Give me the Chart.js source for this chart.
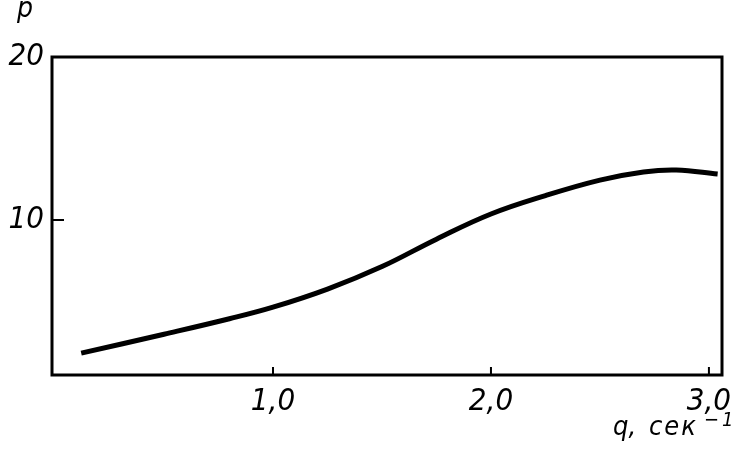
<!DOCTYPE html>
<html>
<head>
<meta charset="utf-8">
<script src="https://cdn.jsdelivr.net/npm/chart.js@4/dist/chart.umd.min.js"></script>
<style>
  html, body { margin: 0; padding: 0; background: #fff; }
  #wrap { width: 740px; height: 452px; }
</style>
</head>
<body>
<div id="wrap"><canvas id="myChart" width="740" height="452"></canvas></div>
<script>
// values: q (1/s) and p
const qValues = [0.12, 0.5, 0.8, 1.0, 1.25, 1.5, 1.75, 2.0, 2.25, 2.5, 2.7, 2.85, 3.04];
const pValues = [1.84, 3.0, 3.95, 4.66, 5.77, 7.15, 8.83, 10.37, 11.5, 12.45, 12.95, 13.07, 12.82];

const xTicks = [1, 2, 3];
const yTicks = [10, 20];
const xTickLabels = ['1,0', '2,0', '3,0'];
const yTickLabels = ['10', '20'];

const fontFamily = '"DejaVu Sans Condensed", "DejaVu Sans", sans-serif';
const labelFont = { family: fontFamily, size: 31, style: 'italic' };

// frame, inward ticks and the two axis names
const framePlugin = {
    id: 'frame',
    afterDraw(chart) {
        const ctx = chart.ctx;
        const a = chart.chartArea;
        const xs = chart.scales.x;
        const ys = chart.scales.y;
        ctx.save();
        ctx.strokeStyle = '#000';
        ctx.lineWidth = 3;
        ctx.strokeRect(a.left, a.top, a.right - a.left, a.bottom - a.top);

        ctx.lineWidth = 2;
        ctx.beginPath();
        xTicks.forEach(v => {
            const x = xs.getPixelForValue(v);
            ctx.moveTo(x, a.bottom);
            ctx.lineTo(x, a.bottom - 8);
        });
        const y10 = ys.getPixelForValue(10);
        ctx.moveTo(a.left, y10);
        ctx.lineTo(a.left + 12, y10);
        ctx.stroke();

        ctx.fillStyle = '#000';
        ctx.textBaseline = 'alphabetic';
        ctx.textAlign = 'left';
        ctx.font = 'italic 28px ' + fontFamily;
        ctx.fillText('p', 17, 17);

        ctx.font = 'italic 27px ' + fontFamily;
        ctx.fillText('q,', 613, 435);
        ctx.letterSpacing = '2px';
        ctx.fillText('сек', 649, 435);
        ctx.font = 'italic 20px ' + fontFamily;
        ctx.letterSpacing = '3px';
        ctx.fillText('−1', 704, 426);
        ctx.restore();
    }
};

new Chart(document.getElementById('myChart').getContext('2d'), {
    type: 'line',
    data: {
        datasets: [{
            data: qValues.map((q, i) => ({ x: q, y: pValues[i] })),
            borderColor: '#000',
            borderWidth: 5,
            pointRadius: 0,
            tension: 0.4,
            fill: false
        }]
    },
    options: {
        responsive: false,
        animation: false,
        layout: { padding: { top: 57, right: 18 } },
        plugins: { legend: { display: false }, tooltip: { enabled: false } },
        scales: {
            x: {
                type: 'linear',
                min: -0.014,
                max: 3.06,
                afterBuildTicks: s => { s.ticks = xTicks.map(v => ({ value: v })); },
                afterFit: s => { s.height = 77; },
                grid: { display: false, drawTicks: false },
                border: { display: false },
                ticks: {
                    color: '#000',
                    font: labelFont,
                    padding: 8,
                    callback: (v) => xTickLabels[xTicks.indexOf(v)]
                }
            },
            y: {
                type: 'linear',
                min: 0.5,
                max: 20,
                afterBuildTicks: s => { s.ticks = yTicks.map(v => ({ value: v })); },
                afterFit: s => { s.width = 52; },
                grid: { display: false, drawTicks: false },
                border: { display: false },
                ticks: {
                    color: '#000',
                    font: labelFont,
                    padding: 8,
                    callback: (v) => yTickLabels[yTicks.indexOf(v)]
                }
            }
        }
    },
    plugins: [framePlugin]
});
</script>
</body>
</html>
